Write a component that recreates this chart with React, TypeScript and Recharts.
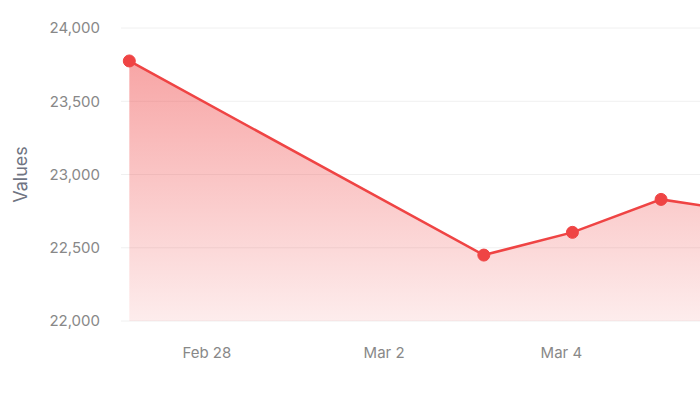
import React from 'react';
import { Area, AreaChart, CartesianGrid, Label, XAxis, YAxis } from 'recharts';

const LINE_COLOR = '#ef4444';
const TICK_COLOR = '#888888';
const TITLE_COLOR = '#6f7482';
const FONT = "Inter, 'Noto Sans', sans-serif";
const HOUR = 3600 * 1000;

const dates = [
  '2023-02-27T03:00:00Z',
  '2023-03-03T03:00:00Z',
  '2023-03-04T03:00:00Z',
  '2023-03-05T03:00:00Z',
  '2023-03-06T03:00:00Z',
];
const values = [23775, 22450, 22605, 22830, 22740];

const xTickDates = ['2023-02-28', '2023-03-02', '2023-03-04'];
const xTickLabels = ['Feb 28', 'Mar 2', 'Mar 4'];
const yTicks = [22000, 22500, 23000, 23500, 24000];

const chartData = dates.map((d, i) => ({ t: Date.parse(d), value: values[i] }));
const xTicks = xTickDates.map((d) => Date.parse(d));

const formatX = (t: number) => {
  const idx = xTicks.indexOf(t);
  return idx >= 0 ? xTickLabels[idx] : '';
};

const renderYTitle = (props: { viewBox?: { x: number; y: number; width: number; height: number } }) => {
  const vb = props.viewBox;
  if (!vb) return null;
  const cx = vb.x + 20;
  const cy = vb.y + vb.height / 2;
  return (
    <text
      x={cx}
      y={cy}
      transform={`rotate(-90, ${cx}, ${cy})`}
      textAnchor="middle"
      dominantBaseline="central"
      fill={TITLE_COLOR}
      fontSize={18}
      fontFamily={FONT}
    >
      Values
    </text>
  );
};

export default function App() {
  return (
    <div
      style={{
        position: 'absolute',
        left: 0,
        top: 0,
        width: 700,
        height: 400,
        overflow: 'hidden',
        background: '#fff',
      }}
    >
      <AreaChart
        width={778}
        height={400}
        data={chartData}
        margin={{ top: 28, right: 20, bottom: 49, left: 0 }}
      >
        <defs>
          <linearGradient id="valuesFill" x1="0" y1="0" x2="0" y2="1">
            <stop offset="0%" stopColor={LINE_COLOR} stopOpacity={0.48} />
            <stop offset="100%" stopColor={LINE_COLOR} stopOpacity={0.1} />
          </linearGradient>
        </defs>
        <CartesianGrid vertical={false} stroke="#f0f0f0" />
        <XAxis
          dataKey="t"
          type="number"
          scale="time"
          domain={[(min: number) => min - 2.25 * HOUR, (max: number) => max + 2.25 * HOUR]}
          ticks={xTicks}
          tickFormatter={formatX}
          axisLine={false}
          tickLine={false}
          tickMargin={20}
          height={30}
          tick={{ fontSize: 15, fill: TICK_COLOR, fontFamily: FONT }}
        />
        <YAxis
          domain={[22000, 24000]}
          ticks={yTicks}
          width={121}
          axisLine={false}
          tickLine={false}
          tickMargin={15}
          tickFormatter={(v: number) => v.toLocaleString('en-US')}
          tick={{ fontSize: 15, fill: TICK_COLOR, fontFamily: FONT }}
        >
          <Label content={renderYTitle} />
        </YAxis>
        <Area
          type="linear"
          dataKey="value"
          stroke={LINE_COLOR}
          strokeWidth={2.5}
          fill="url(#valuesFill)"
          fillOpacity={1}
          dot={{ r: 6, fill: LINE_COLOR, stroke: LINE_COLOR, strokeWidth: 1, fillOpacity: 1 }}
          activeDot={false}
          isAnimationActive={false}
        />
      </AreaChart>
    </div>
  );
}
